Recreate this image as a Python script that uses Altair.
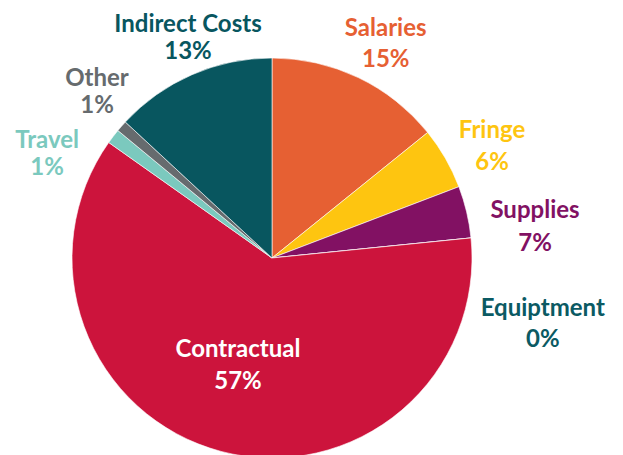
import altair as alt
import pandas as pd

categories = ["Salaries", "Fringe", "Supplies", "Equiptment", "Contractual",
              "Travel", "Other", "Indirect Costs"]
shares = [14.2, 5.0, 4.2, 0.0, 61.4, 1.2, 0.9, 13.1]
pct_labels = ["15%", "6%", "7%", "0%", "57%", "1%", "1%", "13%"]
slice_colors = ["#E66033", "#FEC510", "#821163", "#0B5A63", "#CC143C",
                "#7BC9BE", "#666B6E", "#08565F"]
label_colors = ["#E66033", "#FEC510", "#821163", "#0B5A63", "#FFFFFF",
                "#7BC9BE", "#666B6E", "#08565F"]

df = pd.DataFrame({
    "category": categories,
    "share": shares,
    "pct": pct_labels,
    "order": list(range(len(categories))),
})
df["label"] = df["category"] + "\n" + df["pct"]

CX, CY, R = 272, 258, 200

base = alt.Chart(df)

pie = base.mark_arc(outerRadius=R, stroke="white", strokeWidth=0.6).encode(
    theta=alt.Theta("share:Q", stack=True),
    order=alt.Order("order:Q"),
    color=alt.Color("category:N", scale=alt.Scale(domain=categories, range=slice_colors), legend=None),
    x=alt.value(CX),
    y=alt.value(CY),
)

# label layout: (radius, dx, dy, lineHeight)
layout = {
    "Salaries": (245, 8, -7.5, 31),
    "Fringe": (245, 7.6, -4.5, 32),
    "Supplies": (245, 24.6, 9.9, 33),
    "Equiptment": (245, 27, 75.1, 31),
    "Contractual": (110, -6, -14.4, 32),
    "Travel": (245, -30.4, 31.9, 27),
    "Other": (245, 9.3, -17.1, 27),
    "Indirect Costs": (245, 14, -8.5, 27),
}

label_base = base.transform_joinaggregate(
    total="sum(share)"
).transform_window(
    cum="sum(share)", sort=[alt.SortField("order")], frame=[None, 0]
).transform_calculate(
    mid="(datum.cum - datum.share / 2) / datum.total * 2 * PI"
)

layers = [pie]
for name, col in zip(categories, label_colors):
    rad, dx, dy, lh = layout[name]
    layers.append(
        label_base.transform_filter(alt.datum.category == name).mark_text(
            radius=rad, dx=dx, dy=dy, font="Lato", fontSize=24, fontWeight="bold",
            lineBreak="\n", lineHeight=lh, color=col, align="center", baseline="middle",
        ).encode(
            theta=alt.Theta("mid:Q", scale=None, stack=None),
            text="label:N",
            x=alt.value(CX),
            y=alt.value(CY),
        )
    )

chart = alt.layer(*layers).properties(
    width=623, height=455, autosize=alt.AutoSizeParams(type="none"), padding=0,
    background="white",
).configure_view(stroke=None)

chart.save("out.html", embed_options={"renderer": "svg", "actions": False})
